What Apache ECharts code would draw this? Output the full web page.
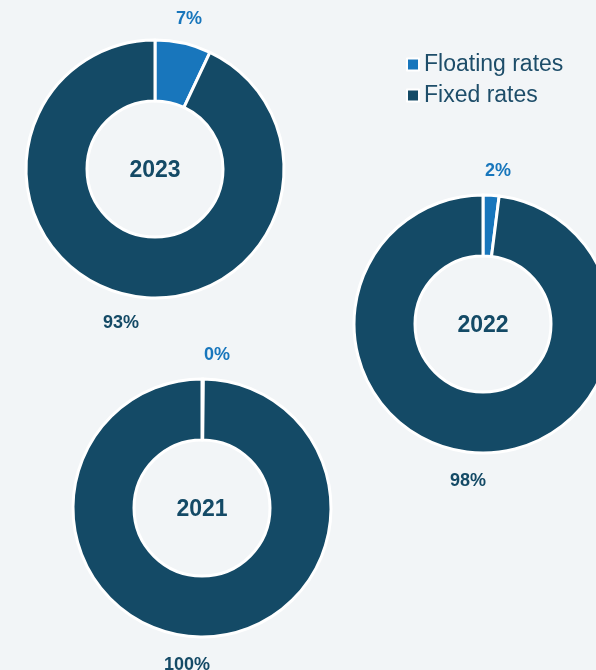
<!DOCTYPE html>
<html>
<head>
<meta charset="utf-8">
<script src="https://cdn.jsdelivr.net/npm/echarts@6/dist/echarts.min.js"></script>
<style>
  html, body { margin: 0; padding: 0; background: #f2f5f7; }
  #chart { width: 596px; height: 670px; }
</style>
</head>
<body>
<div id="chart"></div>
<script>
// Share of floating vs fixed rates per year (percent)
const categories = ['Floating rates', 'Fixed rates'];
const years = ['2023', '2022', '2021'];
const floatingRates = [7, 2, 0];
const fixedRates = [93, 98, 100];

const FONT = '"Liberation Sans", Arial, sans-serif';
const colors = ['#1876bc', '#144a66'];
const centers = [[155, 169], [483, 324], [202, 508]];
const holeRadius = 68;
const ringRadius = 129;

const series = [];
years.forEach((year, i) => {
  const values = [floatingRates[i], fixedRates[i]];
  // the donut itself, with the year written in its hole
  series.push({
    type: 'pie',
    name: year,
    center: centers[i],
    radius: [holeRadius, ringRadius],
    startAngle: 90,
    clockwise: true,
    minAngle: 0.6,
    silent: true,
    avoidLabelOverlap: false,
    itemStyle: { borderColor: '#ffffff', borderWidth: 3 },
    label: {
      show: false,
      position: 'center',
      formatter: '{a}',
      offset: [0, 2],
      color: colors[1],
      fontFamily: FONT,
      fontSize: 23,
      fontWeight: 'bold'
    },
    labelLine: { show: false },
    data: categories.map((name, k) => ({
      name: name,
      value: values[k],
      itemStyle: { color: colors[k] },
      label: { show: k === 1 }
    }))
  });
  // invisible outer ring that carries the percentage labels
  series.push({
    type: 'pie',
    name: year + ' labels',
    center: centers[i],
    radius: [ringRadius + 3, ringRadius + 44],
    startAngle: 90,
    clockwise: true,
    minAngle: 11,
    silent: true,
    avoidLabelOverlap: false,
    itemStyle: { color: 'transparent', borderWidth: 0 },
    label: {
      show: true,
      position: 'inside',
      formatter: '{c}%',
      offset: [0, 2],
      fontFamily: FONT,
      fontSize: 18,
      fontWeight: 'bold'
    },
    labelLine: { show: false },
    data: categories.map((name, k) => ({
      name: name,
      value: values[k],
      label: { color: colors[k] }
    }))
  });
});

const chart = echarts.init(document.getElementById('chart'), null, { renderer: 'canvas' });
chart.setOption({
  backgroundColor: '#f2f5f7',
  animation: false,
  legend: {
    data: categories,
    orient: 'vertical',
    left: 401,
    top: 48,
    itemWidth: 12,
    itemHeight: 12,
    itemGap: 8,
    icon: 'rect',
    selectedMode: false,
    itemStyle: { borderColor: '#ffffff', borderWidth: 2 },
    textStyle: { fontFamily: FONT, fontSize: 23, color: '#1d4d69' }
  },
  series: series
});
</script>
</body>
</html>
